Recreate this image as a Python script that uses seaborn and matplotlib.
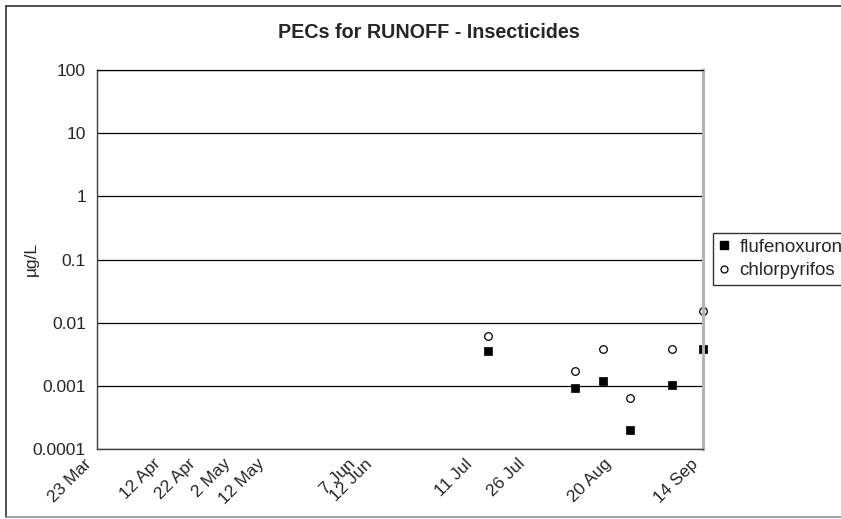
import matplotlib
matplotlib.use("Agg")
import matplotlib.pyplot as plt
import matplotlib.transforms as mtransforms
from matplotlib.lines import Line2D
from matplotlib.ticker import FixedLocator, FixedFormatter, NullLocator
import pandas as pd
import seaborn as sns

# ---- data -------------------------------------------------------------
YEAR = 2006
sample_dates = ["14 Jul", "8 Aug", "16 Aug", "24 Aug", "5 Sep", "14 Sep"]
flufenoxuron = [0.0036, 0.00094, 0.0012, 0.0002, 0.00104, 0.0038]
chlorpyrifos = [0.0061, 0.0017, 0.0038, 0.00065, 0.0038, 0.0151]

date_labels = ["23 Mar", "12 Apr", "22 Apr", "2 May", "12 May", "7 Jun",
               "12 Jun", "11 Jul", "26 Jul", "20 Aug", "14 Sep"]
y_ticks = [0.0001, 0.001, 0.01, 0.1, 1, 10, 100]
y_tick_labels = ["0.0001", "0.001", "0.01", "0.1", "1", "10", "100"]


def to_date(s):
    return pd.to_datetime(f"{s} {YEAR}", format="%d %b %Y")


df = pd.DataFrame({
    "date": [to_date(d) for d in sample_dates] * 2,
    "value": flufenoxuron + chlorpyrifos,
    "substance": ["flufenoxuron"] * len(sample_dates) + ["chlorpyrifos"] * len(sample_dates),
})

# ---- style --------------------------------------------------------------
sns.set_style("white")
plt.rcParams["font.family"] = ["Liberation Sans", "DejaVu Sans"]

W, H = 841, 519
fig = plt.figure(figsize=(W / 100, H / 100), dpi=100)
fig.patch.set_facecolor("white")

# plot area in pixel coordinates
px_l, px_r, px_t, px_b = 97, 703, 70, 449
ax = fig.add_axes([px_l / W, 1 - px_b / H, (px_r - px_l) / W, (px_b - px_t) / H])

flu = df[df.substance == "flufenoxuron"]
chl = df[df.substance == "chlorpyrifos"]
sns.scatterplot(data=flu, x="date", y="value", ax=ax, marker="s", s=40,
                color="black", edgecolor="black", linewidth=0.5, clip_on=False,
                legend=False, zorder=2)
sns.scatterplot(data=chl, x="date", y="value", ax=ax, marker="o", s=30,
                facecolor="white", edgecolor="black", linewidth=0.9, clip_on=False,
                legend=False, zorder=2)

ax.set_yscale("log")
ax.set_ylim(y_ticks[0], y_ticks[-1])
ax.yaxis.set_major_locator(FixedLocator(y_ticks))
ax.yaxis.set_major_formatter(FixedFormatter(y_tick_labels))
ax.yaxis.set_minor_locator(NullLocator())

start, end = to_date("23 Mar"), to_date("14 Sep")
ax.set_xlim(start, end)
# tick marks every 10 days; date labels drawn on their own dates
ax.xaxis.set_major_locator(FixedLocator(
    [matplotlib.dates.date2num(d) for d in pd.date_range(start, end, freq="10D")]))
ax.xaxis.set_major_formatter(FixedFormatter([]))
ax.tick_params(axis="x", which="major", direction="inout", length=8,
               width=0.9, color="#404040", labelbottom=False)
ax.tick_params(axis="y", which="major", direction="inout", length=10,
               width=0.9, color="#404040", labelsize=12.5, pad=3)

label_tf = mtransforms.blended_transform_factory(ax.transData, ax.transAxes) + \
    mtransforms.ScaledTranslation(-13 / 100, -7 / 100, fig.dpi_scale_trans)
for d in date_labels:
    ax.text(to_date(d), 0, d, transform=label_tf, rotation=45,
            ha="right", va="top", rotation_mode="anchor", fontsize=12.5,
            clip_on=False)

ax.grid(axis="y", which="major", color="black", linewidth=0.9)
ax.grid(axis="x", visible=False)
ax.set_axisbelow(True)
ax.set_xlabel("")
ax.set_ylabel("")

for side in ("left", "bottom"):
    ax.spines[side].set_color("#404040")
    ax.spines[side].set_linewidth(1.0)
ax.spines["top"].set_color("black")
ax.spines["top"].set_linewidth(0.9)
ax.spines["right"].set_color("#b4b4b4")
ax.spines["right"].set_linewidth(2.2)

# titles
fig.text(429 / W, 1 - 33 / H, "PECs for RUNOFF - Insecticides",
         ha="center", va="center", fontsize=14.2, fontweight="bold")
fig.text(31 / W, 1 - 259 / H, "µg/L", rotation=90,
         ha="center", va="center", fontsize=12.5)

# legend
handles = [
    Line2D([], [], marker="s", linestyle="none", markersize=5.5,
           markerfacecolor="black", markeredgecolor="black"),
    Line2D([], [], marker="o", linestyle="none", markersize=5,
           markerfacecolor="white", markeredgecolor="black", markeredgewidth=0.9),
]
leg = fig.legend(handles, ["flufenoxuron", "chlorpyrifos"],
                 loc="upper left", bbox_to_anchor=(713 / W, 1 - 233 / H),
                 frameon=True, fancybox=False, shadow=False, fontsize=13.5,
                 handlelength=0.6, handletextpad=0.5, borderpad=0.3,
                 labelspacing=0.35, borderaxespad=0)
leg.get_frame().set_edgecolor("black")
leg.get_frame().set_linewidth(1.0)

# chart border
border_kw = dict(transform=None, linewidth=1.2)
fig.add_artist(Line2D([6, 6], [H - 6, H - 517], color="#303030", **border_kw))
fig.add_artist(Line2D([6, W], [H - 6, H - 6], color="#303030", **border_kw))
fig.add_artist(Line2D([6, W], [H - 517, H - 517], color="#909090", **border_kw))

fig.savefig("out.png", dpi=100)
